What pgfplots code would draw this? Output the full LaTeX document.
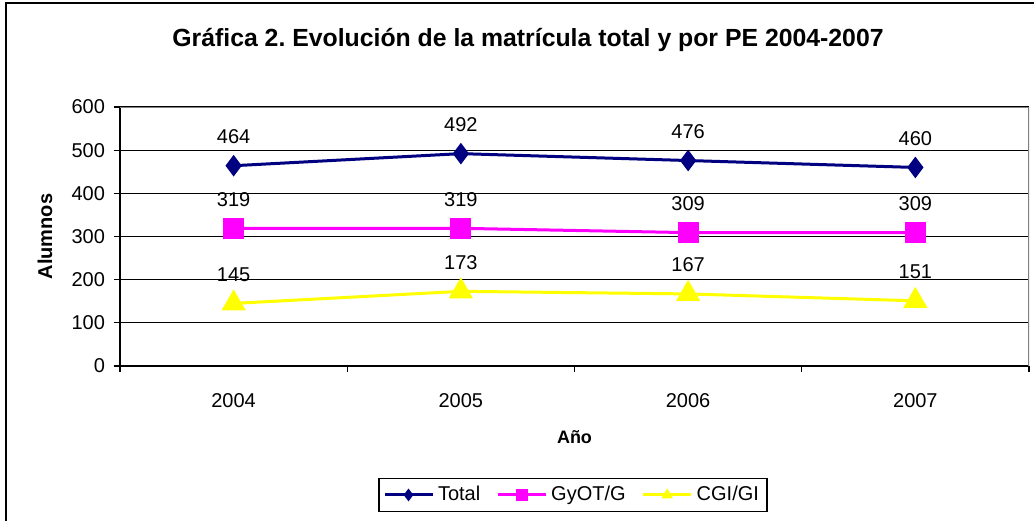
\documentclass[border=0pt]{standalone}
\usepackage{fontspec}
\setmainfont{Liberation Sans}
\usepackage{pgfplots}
\pgfplotsset{compat=1.18}
\definecolor{navyline}{HTML}{000080}
\definecolor{magline}{HTML}{FF00FF}
\definecolor{yelline}{HTML}{FFFF00}
\frenchspacing
\begin{document}
\begin{tikzpicture}
\begin{axis}[
    at={(0,0)}, anchor=south west,
    scale only axis,
    width=454.5pt, height=129.5pt,
    xmin=0.5, xmax=4.5, ymin=0, ymax=600,
    xtick={0.5,1.5,2.5,3.5,4.5},
    x tick label as interval,
    xticklabels={2004,2005,2006,2007},
    ytick={0,100,...,600},
    tick align=outside,
    major tick length=3pt,
    tick style={black, line width=0.6pt},
    ymajorgrids,
    grid style={black, line width=0.6pt},
    axis x line*=bottom, axis y line*=left,
    axis line style={black, line width=0.6pt},
    font=\fontsize{10}{12}\selectfont,
    tick label style={font=\fontsize{10}{12}\selectfont},
    /pgf/number format/assume math mode=true,
    xticklabel style={yshift=-7pt},
    yticklabel style={xshift=-1pt},
    xlabel={\bfseries Año},
    xlabel style={at={(axis description cs:0.5,0)}, anchor=center, yshift=-35.5pt, font=\fontsize{9}{11}\selectfont},
    ylabel={\bfseries Alumnos},
    ylabel style={at={(axis description cs:0,0.5)}, anchor=center, yshift=37.5pt, font=\fontsize{10}{12}\selectfont},
    nodes near coords,
    every node near coord/.append style={anchor=center, yshift=14.5pt, black, font=\fontsize{10}{12}\selectfont},
    legend columns=3,
    legend style={at={(0.4983,-0.498)}, anchor=center, draw=black, line width=0.6pt,
        font=\fontsize{10}{12}\selectfont, inner sep=2pt,
        /tikz/every even column/.append style={column sep=6pt}},
    legend image code/.code={
        \draw[#1, mark size=2.8pt, mark repeat=2, mark phase=2] plot coordinates {(0pt,0pt) (12pt,0pt) (24pt,0pt)};
    },
]
\addplot[navyline, line width=1.5pt, mark=diamond*, mark size=5pt, mark options={line width=0.5pt}] coordinates {(1,464) (2,492) (3,476) (4,460)};
\addlegendentry{Total}
\addplot[magline, line width=1.5pt, mark=square*, mark size=5pt, mark options={line width=0.5pt}] coordinates {(1,319) (2,319) (3,309) (4,309)};
\addlegendentry{GyOT/G}
\addplot[yelline, line width=1.5pt, mark=triangle*, mark size=6.5pt, mark options={line width=0.5pt}] coordinates {(1,145) (2,173) (3,167) (4,151)};
\addlegendentry{CGI/GI}
\draw[gray, line width=0.6pt] (rel axis cs:0,1) -- (rel axis cs:1,1) -- (rel axis cs:1,0);
\end{axis}
\node[font=\bfseries\fontsize{12.4}{15}\selectfont] at (204pt,163pt) {Gráfica 2. Evolución de la matrícula total y por PE 2004-2007};
\draw[black, line width=1pt] (-57pt,-85pt) -- (-57pt,181.5pt) -- (465pt,181.5pt);
\pgfresetboundingbox
\useasboundingbox (-60pt,-77pt) rectangle (457pt,183pt);
\end{tikzpicture}
\end{document}
